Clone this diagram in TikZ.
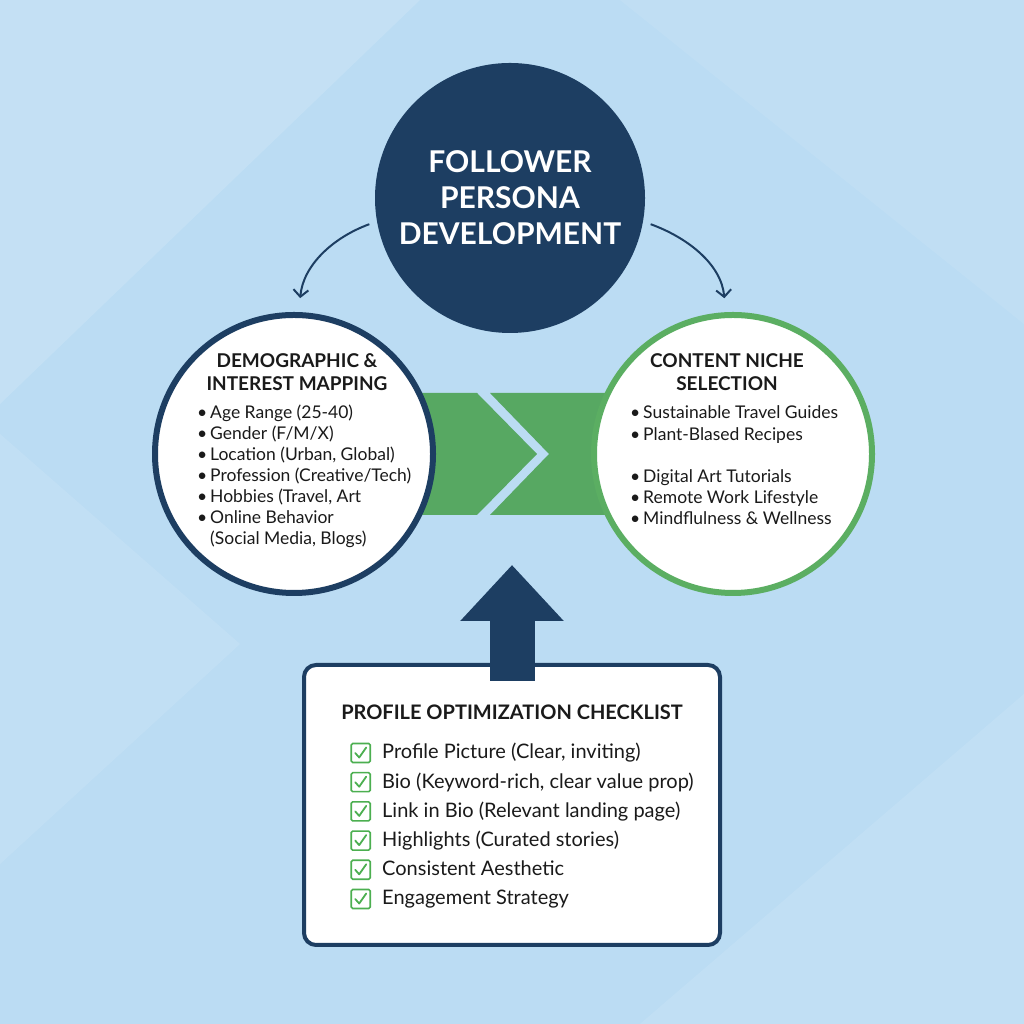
\documentclass[tikz,border=0pt]{standalone}
\usepackage{fontspec}
\setmainfont{Lato}
\usetikzlibrary{arrows.meta,positioning,calc}
\definecolor{navy}{HTML}{1D3E62}
\definecolor{bandgreen}{HTML}{57A862}
\definecolor{ringgreen}{HTML}{5BAE62}
\definecolor{tickgreen}{HTML}{4CAF50}
\definecolor{bgblue}{HTML}{BBDCF3}
\definecolor{ink}{HTML}{1A1A1A}
\newcommand{\blt}{\makebox[13pt][l]{•}}

\begin{document}
\begin{tikzpicture}[x=1pt, y=1pt,
    hub/.style={circle, fill=navy, minimum size=270pt, inner sep=0pt, align=center, text=white,
        font=\bfseries\fontsize{30}{36}\selectfont},
    ring/.style={circle, fill=white, line width=6pt, minimum size=278pt, inner sep=0pt},
    ringtitle/.style={font=\bfseries\fontsize{19}{23}\selectfont, text=ink, align=center},
    entry/.style={font=\fontsize{17.5}{21}\selectfont, text=ink, anchor=west, inner sep=0pt,
        text height=12pt, text depth=4pt},
    flow/.style={draw=navy, line width=2pt, -{Straight Barb[length=7pt,width=15pt]}},
    chkbox/.style={draw=tickgreen, line width=1.6pt, rounded corners=1.5pt, minimum size=19pt, inner sep=0pt},
    tickmark/.style={draw=tickgreen, line width=1.8pt, line cap=round, line join=round}
]
\useasboundingbox (0,0) rectangle (1024,1024);
% background
\fill[bgblue] (0,0) rectangle (1024,1024);
\fill[white, opacity=0.14] (0,1024) -- (420,1024) -- (0,620) -- cycle;
\fill[white, opacity=0.10] (0,590) -- (240,380) -- (0,160) -- cycle;
\fill[white, opacity=0.10] (1024,0) -- (640,0) -- (1024,330) -- cycle;
\fill[white, opacity=0.08] (620,1024) -- (1024,1024) -- (1024,700) -- cycle;

% green chevron band
\fill[bandgreen] (410,631) -- (477,631) -- (537,570) -- (477,509) -- (410,509) -- cycle;
\fill[bandgreen] (490,631) -- (620,631) -- (620,509) -- (490,509) -- (549,570) -- cycle;

% circles
\node[hub] (persona) at (510,826) {FOLLOWER\\PERSONA\\DEVELOPMENT};
\node[ring, draw=navy] (demo) at (294,570) {};
\node[ring, draw=ringgreen] (niche) at (733,570) {};

\node[ringtitle] (demohead) at (297,652) {DEMOGRAPHIC \&\\INTEREST MAPPING};
\node[ringtitle] (nichehead) at (727,652) {CONTENT NICHE\\SELECTION};

\foreach \t [count=\i] in {Age Range (25-40), Gender (F/M/X), {Location (Urban, Global)},
    Profession (Creative/Tech), {Hobbies (Travel, Art}, Online Behavior,
    {(Social Media, Blogs)}}
  \node[entry] (demo\i) at (197,{609-21*(\i-1)}) {\ifnum\i<7 \blt\else\hspace{13pt}\fi\t};

\node[entry] (niche1) at (630,609) {\blt Sustainable Travel Guides};
\node[entry] (niche2) at (630,587) {\blt Plant-Blased Recipes};
\node[entry] (niche3) at (630,545) {\blt Digital Art Tutorials};
\node[entry] (niche4) at (630,524) {\blt Remote Work Lifestyle};
\node[entry] (niche5) at (630,503) {\blt Mindflulness \& Wellness};

% arrows from the hub
\draw[flow, shorten <=8pt, shorten >=14pt] (persona.190) to[out=200, in=85] (demo.88);
\draw[flow, shorten <=8pt, shorten >=14pt] (persona.350) to[out=-20, in=95] (niche.93);

% checklist
\node[draw=navy, line width=4pt, fill=white, rounded corners=12pt,
    minimum width=416pt, minimum height=280pt] (check) at (512,219) {};
\node[font=\bfseries\fontsize{20}{24}\selectfont, text=ink] (checkhead) at (512,312) {PROFILE OPTIMIZATION CHECKLIST};

\foreach \t [count=\i] in {{Profile Picture (Clear, inviting)}, {Bio (Keyword-rich, clear value prop)},
    Link in Bio (Relevant landing page), Highlights (Curated stories),
    Consistent Aesthetic, Engagement Strategy} {
  \node[entry, font=\fontsize{20}{24}\selectfont] (item\i) at (382,{269-29.2*(\i-1)}) {\t};
  \node[chkbox, left=11pt of item\i.west, yshift=2pt] (box\i) {};
  \draw[tickmark] ([shift={(-5.5pt,0pt)}]box\i.center) -- ([shift={(-1.5pt,-4.5pt)}]box\i.center)
      -- ([shift={(5.5pt,5.5pt)}]box\i.center);
}

% up arrow
\coordinate (uptip) at (512,459);
\draw[navy, line width=45pt, -{Triangle[length=56pt,width=100pt]}] ([yshift=-18pt]check.north) -- (uptip);
\end{tikzpicture}
\end{document}
